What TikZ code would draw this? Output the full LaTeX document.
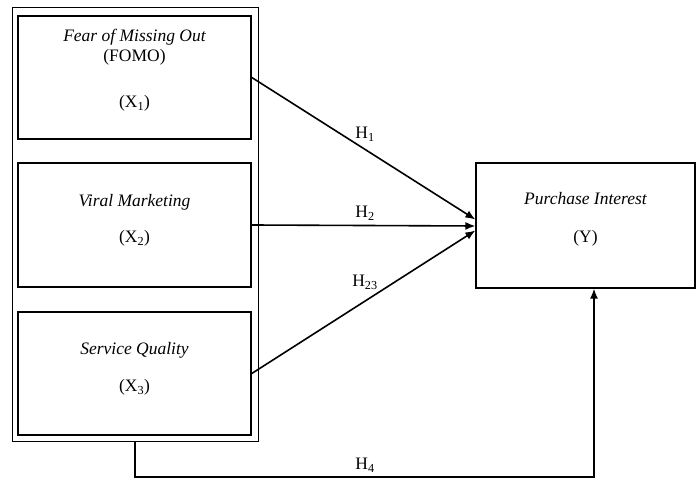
\documentclass[tikz,border=0pt]{standalone}
\usepackage{fontspec}
\setmainfont{Liberation Serif}
\usetikzlibrary{arrows.meta}
\begin{document}
\begin{tikzpicture}[x=1pt,y=-1pt,
  every node/.style={font=\fontsize{17.5}{21}\selectfont, inner sep=0pt},
  outerbox/.style={draw, line width=1pt},
  varbox/.style={draw, line width=1.6pt, minimum width=233pt},
  ybox/.style={draw, line width=1.2pt},
  txt/.style={anchor=base},
  conn/.style={line width=1.6pt, -{Latex[length=10pt,width=8pt]}},
  hlabel/.style={anchor=base}]
\useasboundingbox (0,0) rectangle (697,478);
% outer box
\node[outerbox, minimum width=246pt, minimum height=434pt] (outer) at (135,225) {};
% variable boxes
\node[varbox, minimum height=123pt] (b1) at (134.5,77.5) {};
\node[varbox, minimum height=124pt] (b2) at (134.5,225) {};
\node[varbox, minimum height=123pt] (b3) at (134.5,373.5) {};
\node[ybox, minimum width=219pt, minimum height=125pt] (Y) at (585.5,225.5) {};
% texts
\node[txt] (t1a) at (134.5,42) {\itshape Fear of Missing Out};
\node[txt] (t1b) at (134.5,62) {(FOMO)};
\node[txt] (t1c) at (134.5,108) {(X\textsubscript{1})};
\node[txt] (t2a) at (134.5,207) {\itshape Viral Marketing};
\node[txt] (t2b) at (134.5,243) {(X\textsubscript{2})};
\node[txt] (t3a) at (134.5,355) {\itshape Service Quality};
\node[txt] (t3b) at (134.5,392) {(X\textsubscript{3})};
\node[txt] (tya) at (585.5,205) {\itshape Purchase Interest};
\node[txt] (tyb) at (585.5,243) {(Y)};
% connectors
\draw[conn] (b1.east) -- ([yshift=6pt]Y.west);
\draw[conn] (b2.east) -- ([yshift=-0.5pt]Y.west);
\draw[conn] (b3.east) -- ([yshift=-5pt]Y.west);
\coordinate (c1) at (135,477);
\coordinate (c2) at (594,477);
\draw[line width=1.6pt, -{Latex[length=10pt,width=8pt]}] (outer.south) -- (c1) -- (c2) -- (Y.south -| c2);
% labels
\node[hlabel] (h1) at (365,139) {H\textsubscript{1}};
\node[hlabel] (h2) at (365,218) {H\textsubscript{2}};
\node[hlabel] (h23) at (365,287) {H\textsubscript{23}};
\node[hlabel] (h4) at (365,470) {H\textsubscript{4}};
\end{tikzpicture}
\end{document}
